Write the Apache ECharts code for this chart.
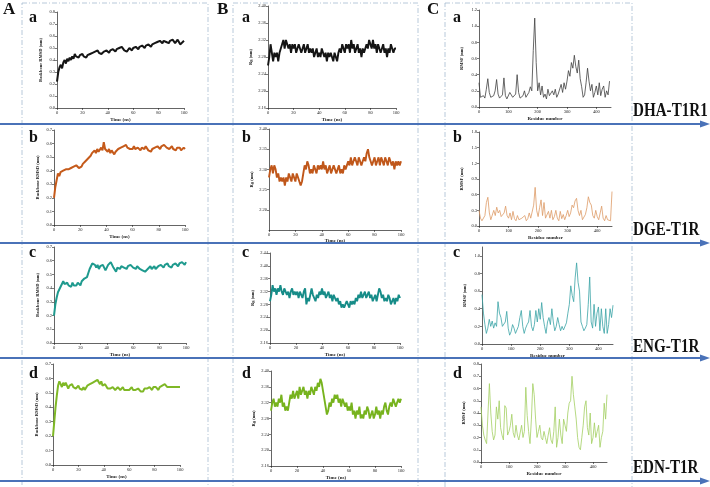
<!DOCTYPE html>
<html>
<head>
<meta charset="utf-8">
<script src="https://cdn.jsdelivr.net/npm/echarts@6/dist/echarts.min.js"></script>
<style>
  html, body { margin: 0; padding: 0; background: #fff; }
  #main { width: 710px; height: 487px; }
</style>
</head>
<body>
<div id="main"></div>
<script>
// RMSD (nm), one value per ns, 0..100
const dhaRmsd = [
  0.22,0.30,0.34,0.36,0.33,0.38,0.40,0.37,0.41,0.39,
  0.42,0.40,0.43,0.41,0.45,0.43,0.44,0.42,0.44,0.43,
  0.45,0.43,0.44,0.42,0.44,0.43,0.45,0.44,0.46,0.45,
  0.47,0.46,0.48,0.46,0.47,0.45,0.46,0.47,0.46,0.48,
  0.47,0.46,0.48,0.47,0.49,0.48,0.47,0.49,0.48,0.50,
  0.49,0.51,0.50,0.48,0.49,0.47,0.48,0.50,0.49,0.48,
  0.50,0.49,0.51,0.50,0.49,0.51,0.50,0.52,0.51,0.50,
  0.52,0.51,0.53,0.52,0.51,0.53,0.52,0.54,0.53,0.55,
  0.54,0.56,0.55,0.54,0.56,0.57,0.55,0.56,0.54,0.56,
  0.55,0.57,0.56,0.54,0.55,0.57,0.55,0.53,0.54,0.55,0.56
];
const dgeRmsd = [
  0.20,0.28,0.33,0.38,0.36,0.39,0.38,0.40,0.39,0.41,
  0.40,0.41,0.40,0.42,0.41,0.43,0.42,0.44,0.43,0.42,
  0.41,0.43,0.45,0.44,0.47,0.46,0.49,0.48,0.51,0.53,
  0.52,0.55,0.53,0.56,0.54,0.55,0.57,0.55,0.61,0.56,
  0.55,0.54,0.56,0.53,0.55,0.54,0.52,0.54,0.55,0.56,
  0.55,0.57,0.56,0.58,0.57,0.59,0.57,0.58,0.56,0.57,
  0.56,0.58,0.56,0.55,0.57,0.56,0.55,0.57,0.58,0.56,
  0.58,0.57,0.55,0.56,0.54,0.56,0.55,0.57,0.56,0.58,
  0.57,0.56,0.58,0.57,0.59,0.58,0.57,0.58,0.56,0.57,
  0.58,0.56,0.57,0.55,0.57,0.56,0.57,0.55,0.56,0.57,0.56
];
const engRmsd = [
  0.20,0.28,0.33,0.37,0.39,0.41,0.40,0.45,0.43,0.42,
  0.44,0.42,0.43,0.41,0.44,0.42,0.43,0.42,0.44,0.43,
  0.42,0.45,0.44,0.47,0.46,0.48,0.51,0.54,0.56,0.58,
  0.59,0.57,0.55,0.57,0.54,0.56,0.55,0.57,0.55,0.53,
  0.55,0.57,0.56,0.59,0.57,0.55,0.54,0.52,0.55,0.56,
  0.54,0.56,0.57,0.55,0.56,0.54,0.56,0.55,0.57,0.56,
  0.55,0.56,0.54,0.56,0.55,0.54,0.55,0.53,0.54,0.52,
  0.51,0.54,0.55,0.56,0.54,0.55,0.56,0.54,0.55,0.56,
  0.55,0.57,0.56,0.55,0.57,0.56,0.58,0.56,0.57,0.55,
  0.57,0.56,0.58,0.57,0.56,0.58,0.57,0.59,0.58,0.57,0.59
];
const ednRmsd = [
  0.20,0.30,0.40,0.48,0.55,0.58,0.56,0.54,0.57,0.55,
  0.57,0.55,0.53,0.55,0.54,0.56,0.54,0.55,0.53,0.54,
  0.55,0.53,0.54,0.52,0.54,0.52,0.53,0.55,0.54,0.56,
  0.55,0.57,0.56,0.58,0.57,0.59,0.58,0.56,0.58,0.55,
  0.54,0.56,0.55,0.53,0.54,0.53,0.52,0.54,0.53,0.52,
  0.53,0.54,0.53,0.52,0.53,0.54,0.52,0.53,0.52,0.53,
  0.52,0.53,0.54,0.52,0.53,0.52,0.51,0.53,0.52,0.51,
  0.52,0.51,0.53,0.52,0.53,0.52,0.54,0.53,0.52,0.54,
  0.53,0.54,0.53,0.52,0.54,0.53,0.55,0.54,0.56,0.55,
  0.54,0.53,0.54,0.55,0.54,0.53,0.54,0.55,0.54,0.53,0.54
];

// Rg (nm), one value per ns, 0..100
const dhaRg = [
  2.26,2.28,2.31,2.29,2.27,2.29,2.28,2.29,2.27,2.29,
  2.30,2.31,2.32,2.30,2.32,2.31,2.30,2.31,2.29,2.31,
  2.30,2.31,2.29,2.30,2.31,2.30,2.29,2.30,2.31,2.29,
  2.30,2.31,2.29,2.30,2.29,2.30,2.28,2.29,2.30,2.28,
  2.29,2.28,2.30,2.29,2.28,2.29,2.27,2.29,2.28,2.29,
  2.28,2.27,2.29,2.28,2.27,2.29,2.30,2.29,2.31,2.30,
  2.29,2.31,2.30,2.31,2.29,2.32,2.30,2.31,2.29,2.30,
  2.31,2.29,2.30,2.28,2.30,2.29,2.30,2.31,2.30,2.32,
  2.31,2.30,2.32,2.30,2.31,2.29,2.31,2.30,2.29,2.30,
  2.31,2.29,2.30,2.28,2.30,2.29,2.31,2.30,2.29,2.30,2.30
];
const dgeRg = [
  2.28,2.30,2.31,2.29,2.31,2.30,2.28,2.29,2.27,2.28,
  2.27,2.28,2.26,2.28,2.27,2.29,2.28,2.27,2.29,2.28,
  2.27,2.29,2.28,2.27,2.26,2.27,2.29,2.31,2.30,2.32,
  2.31,2.29,2.30,2.29,2.31,2.30,2.29,2.31,2.30,2.31,
  2.30,2.32,2.30,2.31,2.29,2.30,2.31,2.29,2.30,2.31,
  2.30,2.29,2.30,2.31,2.29,2.30,2.29,2.31,2.30,2.31,
  2.32,2.31,2.33,2.31,2.32,2.33,2.32,2.31,2.33,2.32,
  2.31,2.32,2.33,2.32,2.34,2.35,2.33,2.32,2.31,2.32,
  2.33,2.31,2.32,2.33,2.31,2.33,2.32,2.31,2.33,2.32,
  2.31,2.33,2.32,2.31,2.32,2.30,2.32,2.31,2.32,2.31,2.32
];
const engRg = [
  2.29,2.31,2.34,2.32,2.33,2.31,2.33,2.32,2.34,2.32,
  2.31,2.33,2.32,2.31,2.32,2.30,2.32,2.33,2.31,2.32,
  2.31,2.32,2.30,2.32,2.31,2.30,2.32,2.33,2.28,2.30,
  2.29,2.31,2.33,2.31,2.30,2.29,2.31,2.30,2.32,2.31,
  2.33,2.31,2.32,2.30,2.31,2.32,2.30,2.31,2.29,2.31,
  2.30,2.29,2.30,2.28,2.29,2.27,2.28,2.27,2.28,2.29,
  2.28,2.27,2.29,2.28,2.29,2.28,2.30,2.29,2.31,2.30,
  2.32,2.30,2.31,2.32,2.30,2.31,2.32,2.30,2.31,2.29,
  2.30,2.31,2.29,2.31,2.33,2.32,2.30,2.31,2.29,2.30,
  2.29,2.31,2.30,2.28,2.29,2.30,2.28,2.30,2.29,2.31,2.30
];
const ednRg = [
  2.30,2.32,2.33,2.31,2.32,2.31,2.33,2.32,2.34,2.31,
  2.32,2.30,2.31,2.30,2.32,2.34,2.33,2.35,2.33,2.34,
  2.35,2.33,2.36,2.34,2.35,2.36,2.34,2.35,2.33,2.35,
  2.34,2.36,2.35,2.34,2.36,2.35,2.37,2.36,2.38,2.37,
  2.35,2.33,2.31,2.29,2.30,2.32,2.31,2.33,2.32,2.34,
  2.33,2.34,2.32,2.33,2.31,2.33,2.32,2.31,2.32,2.30,
  2.31,2.30,2.32,2.29,2.30,2.28,2.30,2.29,2.31,2.28,
  2.29,2.28,2.30,2.29,2.31,2.30,2.28,2.29,2.30,2.28,
  2.29,2.31,2.29,2.30,2.28,2.30,2.29,2.31,2.32,2.30,
  2.29,2.31,2.32,2.31,2.33,2.32,2.31,2.32,2.33,2.32,2.33
];

// RMSF (nm), one value every 5 residues from residue 0
const dhaRmsf = [
  0.30,0.12,0.10,0.14,0.11,0.22,0.35,0.18,0.12,0.10,
  0.14,0.20,0.34,0.16,0.11,0.10,0.15,0.36,0.14,0.10,
  0.12,0.18,0.20,0.12,0.10,0.16,0.40,0.18,0.11,0.10,
  0.14,0.20,0.12,0.11,0.18,0.25,0.20,0.70,1.10,0.55,
  0.20,0.30,0.15,0.26,0.12,0.16,0.10,0.22,0.14,0.12,
  0.20,0.15,0.22,0.12,0.16,0.14,0.28,0.18,0.30,0.22,
  0.32,0.45,0.38,0.55,0.48,0.64,0.50,0.42,0.58,0.35,
  0.25,0.12,0.15,0.30,0.48,0.32,0.20,0.28,0.12,0.18,
  0.26,0.15,0.30,0.14,0.22,0.26,0.12,0.20,0.15,0.32
];
const dgeRmsf = [
  0.30,0.15,0.10,0.12,0.20,0.45,0.55,0.25,0.12,0.15,
  0.30,0.20,0.36,0.25,0.30,0.18,0.15,0.25,0.38,0.20,
  0.15,0.25,0.12,0.28,0.14,0.10,0.20,0.12,0.10,0.15,
  0.12,0.20,0.10,0.14,0.25,0.15,0.12,0.40,0.74,0.30,
  0.18,0.35,0.50,0.20,0.45,0.15,0.12,0.28,0.15,0.30,
  0.12,0.18,0.30,0.15,0.10,0.28,0.14,0.22,0.12,0.20,
  0.30,0.18,0.25,0.40,0.35,0.48,0.53,0.30,0.20,0.30,
  0.12,0.15,0.22,0.35,0.56,0.45,0.40,0.20,0.15,0.30,
  0.18,0.12,0.25,0.38,0.15,0.10,0.20,0.12,0.15,0.10,0.66
];
const engRmsf = [
  0.56,0.35,0.22,0.12,0.18,0.28,0.20,0.26,0.18,0.24,
  0.20,0.48,0.35,0.30,0.20,0.18,0.25,0.37,0.18,0.10,
  0.14,0.22,0.18,0.12,0.10,0.20,0.30,0.38,0.20,0.12,
  0.18,0.22,0.25,0.38,0.20,0.15,0.22,0.38,0.25,0.40,
  0.28,0.47,0.30,0.20,0.12,0.25,0.30,0.22,0.40,0.25,
  0.15,0.20,0.30,0.22,0.15,0.20,0.16,0.18,0.24,0.35,
  0.45,0.66,0.55,0.48,0.75,0.92,0.70,0.60,0.25,0.20,
  0.15,0.18,0.22,0.45,0.76,0.25,0.18,0.45,0.20,0.35,
  0.42,0.15,0.40,0.20,0.12,0.40,0.12,0.22,0.40,0.30,0.44
];
const ednRmsf = [
  0.45,0.30,0.22,0.18,0.15,0.40,0.64,0.40,0.25,0.18,
  0.22,0.45,0.35,0.50,0.28,0.22,0.18,0.46,0.44,0.22,
  0.25,0.30,0.39,0.24,0.20,0.30,0.22,0.18,0.17,0.30,
  0.20,0.25,0.61,0.38,0.25,0.15,0.35,0.64,0.55,0.35,
  0.20,0.25,0.30,0.20,0.18,0.25,0.20,0.15,0.22,0.28,
  0.18,0.15,0.25,0.45,0.12,0.20,0.35,0.22,0.15,0.35,
  0.30,0.25,0.40,0.48,0.50,0.70,0.55,0.45,0.35,0.20,
  0.12,0.10,0.20,0.30,0.45,0.50,0.28,0.22,0.40,0.15,
  0.20,0.32,0.20,0.25,0.30,0.12,0.20,0.25,0.48,0.35,0.55
];

const complexNames = ['DHA-T1R1', 'DGE-T1R', 'ENG-T1R', 'EDN-T1R'];
const rowLetters = ['a', 'b', 'c', 'd'];
const columnLetters = ['A', 'B', 'C'];

const SERIF = '"Liberation Serif", "DejaVu Serif", serif';
const INK = '#222';

// one row per complex: [RMSD, Rg, RMSF]
const rows = [
  { series: [dhaRmsd, dhaRg, dhaRmsf], colors: ['#151515', '#151515', '#404040'] },
  { series: [dgeRmsd, dgeRg, dgeRmsf], colors: ['#c55a1a', '#c0571a', '#dd9a66'] },
  { series: [engRmsd, engRg, engRmsf], colors: ['#1e9a8e', '#168c88', '#3aa3a6'] },
  { series: [ednRmsd, ednRg, ednRmsf], colors: ['#7fb826', '#77b31e', '#a3cf62'] }
];
const lineWidths = [2.0, 1.9, 0.8];

// grid boxes [left, top, width, height]
const boxes = [
  [[57, 12, 127, 96], [268, 6, 128, 102], [479, 10, 132, 97]],
  [[54, 130, 131, 95], [269, 129, 132, 101], [479, 132, 133, 94]],
  [[54, 247, 132, 96], [270, 253, 130, 90], [482, 247, 131, 97]],
  [[53, 364, 127, 101], [271, 371, 130, 95], [481, 364, 126, 98]]
];

// y scales [min, max, interval, decimals, hideMin, hideMax]
const yScales = [
  [[0, 0.8, 0.1, 1], [2.16, 2.40, 0.04, 2], [0, 1.2, 0.2, 1]],
  [[0, 0.7, 0.1, 1], [2.15, 2.40, 0.05, 2, true], [0, 1.8, 0.3, 1]],
  [[0, 0.7, 0.1, 1], [2.16, 2.44, 0.04, 2], [0, 1.1, 0.2, 1, false, true]],
  [[0, 0.7, 0.1, 1], [2.16, 2.40, 0.04, 2], [0, 0.8, 0.1, 1]]
];

const yNames = ['Backbone RMSD (nm)', 'Rg (nm)', 'RMSF (nm)'];
const xNames = ['Time (ns)', 'Time (ns)', 'Residue number'];
const yNameGaps = [14, 15, 15];

const grids = [], xAxes = [], yAxes = [], seriesList = [];

rows.forEach(function (row, r) {
  for (let c = 0; c < 3; c++) {
    const idx = grids.length;
    const b = boxes[r][c];
    const ys = yScales[r][c];
    grids.push({ left: b[0], top: b[1], width: b[2], height: b[3], containLabel: false });

    const axisLine = { show: true, lineStyle: { color: INK, width: 0.7 } };
    const axisTick = { show: true, length: 2, lineStyle: { color: INK, width: 0.6 } };

    xAxes.push({
      gridIndex: idx, type: 'value',
      min: 0, max: c < 2 ? 100 : 450, interval: c < 2 ? 20 : 100,
      axisLine: axisLine, axisTick: axisTick,
      splitLine: { show: false },
      axisLabel: { fontSize: 4.5, margin: 2, color: INK, fontFamily: SERIF, showMaxLabel: c < 2 },
      name: xNames[c], nameLocation: 'middle', nameGap: (r === 1 && c === 1) ? 8 : 9,
      nameTextStyle: { fontSize: 5, color: INK, fontFamily: SERIF, fontWeight: 'bold' }
    });

    yAxes.push({
      gridIndex: idx, type: 'value',
      min: ys[0], max: ys[1], interval: ys[2],
      axisLine: axisLine, axisTick: axisTick,
      splitLine: { show: false },
      axisLabel: {
        fontSize: 4.5, margin: 2, color: INK, fontFamily: SERIF,
        showMinLabel: !ys[4], showMaxLabel: !ys[5],
        formatter: (function (d) { return function (v) { return v.toFixed(d); }; })(ys[3])
      },
      name: yNames[c], nameLocation: 'middle', nameGap: yNameGaps[c], nameRotate: 90,
      nameTextStyle: { fontSize: 4.5, color: INK, fontFamily: SERIF, fontWeight: 'bold' }
    });

    const step = c < 2 ? 1 : 5;
    seriesList.push({
      type: 'line', xAxisIndex: idx, yAxisIndex: idx,
      data: row.series[c].map(function (v, i) { return [i * step, v]; }),
      showSymbol: false, symbol: 'none', animation: false,
      lineStyle: { color: row.colors[c], width: lineWidths[c], join: 'bevel' }
    });
  }
});

// decorations: dashed panel boxes, arrows, letters
const graphics = [];
[[22, 186], [233, 185], [445, 187]].forEach(function (p) {
  graphics.push({
    type: 'rect', shape: { x: p[0], y: 3, width: p[1], height: 490 },
    style: { fill: 'none', stroke: '#a6bbd0', lineWidth: 0.8, lineDash: [5, 2, 1, 2] }, z: 0
  });
});
[124, 243, 358, 481].forEach(function (y) {
  graphics.push({
    type: 'line', shape: { x1: 0, y1: y, x2: 702, y2: y },
    style: { stroke: '#4a72b8', lineWidth: 2 }, z: 5
  });
  graphics.push({
    type: 'polygon', shape: { points: [[700, y - 3.5], [710, y], [700, y + 3.5]] },
    style: { fill: '#4a72b8' }, z: 5
  });
});
[3, 217, 427].forEach(function (x, i) {
  graphics.push({
    type: 'text', x: x, y: 1,
    style: { text: columnLetters[i], font: 'bold 17px ' + SERIF, fill: '#111', verticalAlign: 'top' }
  });
});
const letterTops = [10, 130, 245, 366];
[29, 242, 453].forEach(function (x) {
  rowLetters.forEach(function (t, r) {
    graphics.push({
      type: 'text', x: x, y: letterTops[r],
      style: { text: t, font: 'bold 16px ' + SERIF, fill: '#111', verticalAlign: 'top' }
    });
  });
});
// complex names: tall, slightly condensed bold serif
const nameTops = [102, 221, 338, 459];
complexNames.forEach(function (t, r) {
  graphics.push({
    type: 'text', x: 633, y: nameTops[r], scaleX: 0.84,
    style: { text: t, font: 'bold 18px ' + SERIF, fill: '#111', verticalAlign: 'top' }
  });
});

const myChart = echarts.init(document.getElementById('main'), null, { renderer: 'canvas' });
myChart.setOption({
  backgroundColor: '#fff',
  animation: false,
  grid: grids,
  xAxis: xAxes,
  yAxis: yAxes,
  series: seriesList,
  graphic: graphics
});
</script>
</body>
</html>
